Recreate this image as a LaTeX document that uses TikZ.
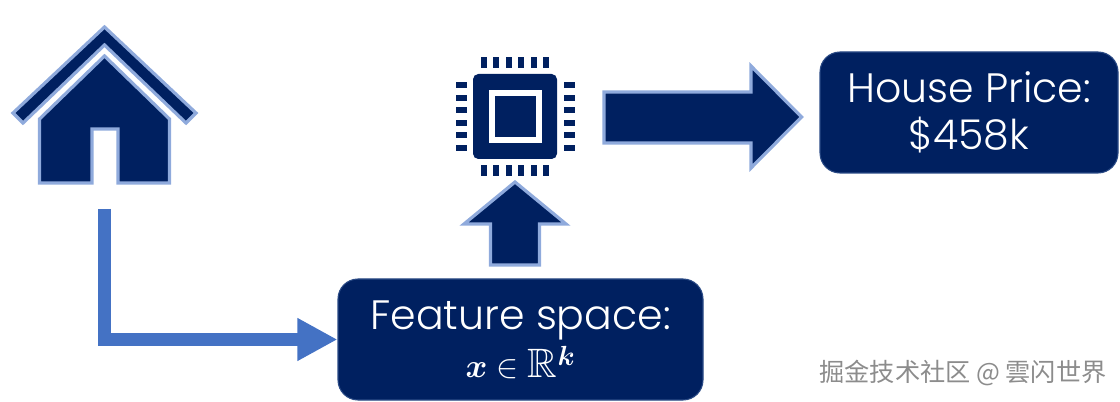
\documentclass[tikz,border=0pt]{standalone}
\usepackage{amsmath,amssymb}
\usepackage{fontspec}
\setmainfont{Poppins}[UprightFont=* Light]
\newfontfamily\cjkfont{Noto Sans CJK SC}
\usetikzlibrary{arrows.meta}
\definecolor{navy}{HTML}{002060}
\definecolor{lightedge}{HTML}{8FAADC}
\definecolor{elbowblue}{HTML}{4472C4}
\definecolor{boxedge}{HTML}{2A4A85}
\tikzset{
  shapeicon/.style={fill=navy,draw=lightedge,line width=2.4pt,miter limit=10},
  chip/.style={fill=navy,draw=none},
  infobox/.style={fill=navy,draw=boxedge,line width=0.8pt,rounded corners=15pt,text=white,
    inner sep=0pt,align=center,font=\fontsize{30.8}{34.5}\selectfont},
  elbow/.style={draw=elbowblue,line width=9.75pt,-{Triangle[length=30pt,width=30pt]}},
}
\begin{document}
\begin{tikzpicture}[x=0.75pt,y=-0.75pt]
\useasboundingbox (0,0) rectangle (1120,402);
% house
\draw[shapeicon] (104.5,27) -- (196,113) -- (186,123) -- (104.5,45) -- (23,123) -- (13,113) -- cycle;
\draw[shapeicon] (104.5,56) -- (169.5,119) -- (169.5,183) -- (118,183) -- (118,129) -- (92,129) -- (92,183) -- (39.5,183) -- (39.5,119) -- cycle;
% chip
\fill[chip,rounded corners=4pt] (473,74) rectangle (557,159);
\fill[white] (488.5,90) rectangle (541.5,143.5);
\fill[chip] (495,96.5) rectangle (535.5,137);
\foreach \cx in {483.5,496,508.5,521,533.5,546}{
  \fill[chip] (\cx-3,57.5) rectangle (\cx+3,68.5);
  \fill[chip] (\cx-3,165) rectangle (\cx+3,176);
}
\foreach \cy in {85.5,98,110.5,123,135.5,148}{
  \fill[chip] (455.5,\cy-3) rectangle (466.5,\cy+3);
  \fill[chip] (563.5,\cy-3) rectangle (574.5,\cy+3);
}
% block arrows
\draw[shapeicon] (515,182) -- (566,224) -- (539.5,224) -- (539.5,265) -- (490.5,265) -- (490.5,224) -- (464,224) -- cycle;
\draw[shapeicon] (604,92) -- (751,92) -- (751,66) -- (801.5,117) -- (751,168) -- (751,143) -- (604,143) -- cycle;
% boxes
\node[infobox,minimum width=273.75pt,minimum height=90.75pt] (feature) at (520.5,339.5)
  {Feature space:\\\raisebox{-1.5pt}{$\boldsymbol{x}\in\mathbb{R}^{\boldsymbol{k}}$}};
\node[infobox,minimum width=223.5pt,minimum height=90.75pt] (price) at (969,112.5)
  {House Price:\\[0.7pt]\$458k};
% elbow connector
\coordinate (elbowstart) at (104.5,209);
\draw[elbow] (elbowstart) |- (feature.west);
% watermark
\node[text=black!45,inner sep=0pt,font=\cjkfont\fontsize{18.9}{20}\selectfont] (mark) at (963,373) {掘金技术社区 @ 雲闪世界};
\end{tikzpicture}
\end{document}
